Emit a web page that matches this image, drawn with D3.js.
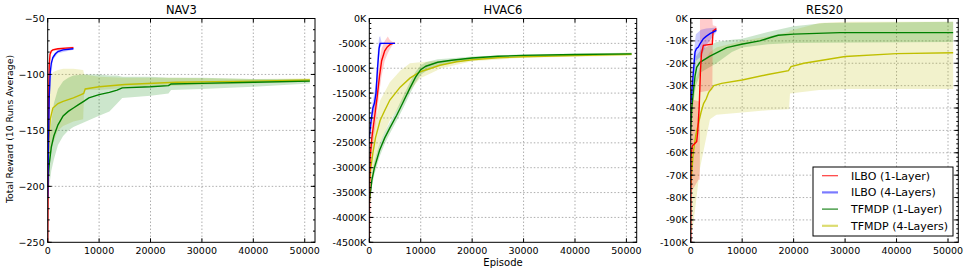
<!DOCTYPE html>
<html><head><meta charset="utf-8">
<script src="https://cdn.jsdelivr.net/npm/d3@7"></script>
<style>
body{margin:0;background:#fff;}
text{font-family:"DejaVu Sans",sans-serif;fill:#000;}
</style></head>
<body><svg id="c" width="969" height="273"></svg>
<script>
// ---------------- DATA ----------------
const panelTitles = ["NAV3", "HVAC6", "RES20"];
const seriesNames = ["ILBO (1-Layer)", "ILBO (4-Layers)", "TFMDP (1-Layer)", "TFMDP (4-Layers)"];
const xTicks = [0, 10000, 20000, 30000, 40000, 50000];
const nav3Ticks = [-250, -200, -150, -100, -50];
const hvacTicks = [-4500, -4000, -3500, -3000, -2500, -2000, -1500, -1000, -500, 0];
const resTicks = [-100, -90, -80, -70, -60, -50, -40, -30, -20, -10, 0];

// NAV3  [episode, mean]  and band [episode, low, high]
const nav3_ilbo1 = [[0,-250],[60,-215],[120,-170],[200,-120],[300,-92],[450,-82],[700,-79],[1000,-78],[2000,-77],[3500,-76.5],[5000,-76]];
const nav3_ilbo1_band = [[0,-250,-250],[200,-123,-117],[450,-84,-80],[1000,-79,-77],[5000,-77,-75]];
const nav3_ilbo4 = [[0,-210],[150,-160],[300,-120],[500,-98],[700,-90],[1000,-85],[1500,-81.5],[2000,-79.5],[3000,-78],[5000,-77]];
const nav3_ilbo4_band = [[0,-212,-208],[300,-123,-117],[1000,-87,-83],[2000,-81,-78],[5000,-78,-76]];
const nav3_tf1 = [[0,-200],[300,-180],[700,-165],[1200,-155],[2000,-145],[3000,-137],[4000,-133],[5000,-130],[6000,-127],[7000,-124],[8000,-121],[10000,-118],[12000,-116],[13500,-114],[14500,-112],[20000,-111],[23500,-110],[24000,-108.5],[30000,-108],[40000,-107],[51000,-106]];
const nav3_tf1_band = [[0,-205,-195],[300,-200,-162],[700,-186,-142],[1200,-176,-126],[2000,-163,-113],[3000,-155,-106],[4000,-150,-103],[5000,-147,-101],[7000,-143,-100],[10000,-137,-100],[12000,-133,-101],[13500,-126,-101],[14500,-121,-102],[20000,-119,-102],[23500,-117,-103],[24000,-114,-103],[30000,-113,-103],[40000,-111,-104],[51000,-108,-104]];
const nav3_tf4 = [[0,-200],[200,-160],[500,-140],[1000,-130],[2000,-126],[3000,-124],[5000,-121],[6500,-118],[7000,-117],[7300,-113],[10000,-111],[15000,-109],[25000,-107],[40000,-106],[51000,-105]];
const nav3_tf4_band = [[0,-205,-195],[200,-190,-130],[500,-175,-106],[1000,-162,-98],[2000,-150,-96],[3000,-146,-95],[5000,-142,-95],[6900,-140,-96],[7100,-114,-100],[10000,-114,-102],[15000,-112,-103],[25000,-110,-103],[40000,-108,-104],[51000,-106.5,-103.5]];

// HVAC6 (thousands)
const hvac_ilbo1 = [[0,-4500],[50,-3500],[150,-2800],[500,-2400],[1000,-2000],[1500,-1600],[2000,-1150],[2400,-850],[3000,-650],[3500,-570],[4000,-525],[4600,-500],[5000,-500]];
const hvac_ilbo1_band = [[0,-4500,-4500],[50,-3800,-3200],[150,-3100,-2500],[500,-2700,-2100],[1000,-2300,-1700],[1500,-1900,-1250],[2000,-1450,-850],[2400,-1150,-600],[3000,-850,-450],[3600,-700,-360],[4000,-620,-430],[4600,-520,-480],[5000,-510,-490]];
const hvac_ilbo4 = [[0,-2400],[300,-2100],[700,-1800],[1000,-1700],[1300,-1500],[1600,-1000],[1900,-600],[2100,-500],[5000,-500]];
const hvac_ilbo4_band = [[0,-2500,-2300],[300,-2250,-1950],[700,-1950,-1650],[1000,-1850,-1500],[1300,-1700,-1250],[1600,-1250,-700],[1900,-800,-380],[2100,-600,-350],[2400,-520,-480],[5000,-505,-495]];
const hvac_tf1 = [[0,-3700],[500,-3250],[1000,-3000],[2000,-2650],[3000,-2400],[4000,-2200],[5300,-1950],[6500,-1700],[7900,-1400],[9000,-1180],[10000,-1030],[11000,-960],[13300,-880],[16000,-840],[20000,-795],[25000,-760],[30000,-741],[40000,-725],[51000,-712]];
const hvac_tf1_band = [[0,-3800,-3600],[500,-3380,-3120],[1000,-3130,-2870],[2000,-2780,-2520],[3000,-2520,-2280],[4000,-2310,-2090],[5300,-2060,-1840],[6500,-1820,-1580],[7900,-1520,-1280],[9000,-1290,-1070],[10000,-1130,-940],[11000,-1060,-880],[13300,-960,-820],[16000,-890,-800],[20000,-830,-765],[30000,-760,-720],[51000,-730,-695]];
const hvac_tf4 = [[0,-3300],[300,-3000],[700,-2700],[1200,-2400],[2100,-2050],[3000,-1850],[4000,-1640],[6000,-1380],[7900,-1200],[9900,-1070],[12000,-1000],[13750,-940],[17000,-870],[20000,-830],[25000,-790],[30000,-770],[40000,-745],[51000,-722]];
const hvac_tf4_band = [[0,-3600,-3000],[700,-3100,-2300],[2100,-2500,-1650],[4000,-2050,-1280],[6000,-1750,-1050],[7900,-1450,-900],[9900,-1200,-880],[12000,-1100,-860],[14000,-1000,-850],[20000,-860,-790],[30000,-790,-740],[40000,-770,-720],[51000,-750,-680]];

// RES20 (thousands)
const res_ilbo1 = [[0,-100],[50,-62],[300,-57],[1160,-55],[1350,-51],[1650,-39.5],[1900,-23],[2100,-15.6],[2460,-12],[4200,-11.5],[4350,-5.5],[5000,-4.5]];
const res_ilbo1_band = [[0,-78,-36],[1500,-72,-37],[1780,-72,-37],[1800,-33,0],[4200,-32,0],[4300,-7,-3],[5000,-5.5,-3.5]];
const res_ilbo4 = [[0,-38],[200,-33],[500,-24.5],[840,-15],[1100,-13.5],[1480,-12.8],[1810,-11.3],[2460,-9],[3000,-8],[3750,-6.8],[5000,-5.3]];
const res_ilbo4_band = [[0,-40,-33],[500,-30,-17],[1000,-19,-7],[2000,-17,-5],[3000,-12,-4.5],[5000,-6,-4]];
const res_tf1 = [[0,-50],[200,-40],[500,-33],[840,-25.7],[1160,-21.8],[1800,-19.6],[3750,-16.8],[7000,-13],[9860,-11.5],[13400,-10],[15500,-8.5],[17000,-7.5],[20000,-7],[29000,-6.3],[51000,-6.3]];
const res_tf1_band = [[0,-58,-42],[500,-38,-28],[1000,-30,-17],[2000,-24,-14],[5000,-20,-10.5],[8000,-15,-9.5],[10000,-13,-9],[15000,-11.5,-6],[20000,-11,-3.5],[26000,-10.8,-2],[51000,-10.5,-1.5]];
const res_tf4 = [[0,-75],[500,-60],[1000,-52],[1500,-47],[2000,-42],[2500,-38],[3000,-36],[3500,-33],[4500,-30],[6000,-29],[10000,-27.5],[15000,-25],[19000,-23.3],[19500,-21.5],[22000,-20],[30000,-17],[40000,-15.7],[51000,-15.3]];
const res_tf4_band = [[0,-98,-40],[500,-92,-30],[1800,-67,-22],[3750,-45,-15],[5000,-43,-13],[10000,-42,-10],[15000,-41,-8],[19100,-40.5,-6],[19300,-33.5,-5.5],[25000,-32,-2],[30000,-31.5,-1.5],[51000,-31.5,-1.5]];

// ---------------- DRAW ----------------
const colors = ["#ff0000", "#0000ff", "#008000", "#bfbf00"];
const svg = d3.select("#c");
const plotTop = 18.5, plotBottom = 242.3;
const panels = [
  {left:47.7, right:315, yDom:[-250,-50], ticks:nav3Ticks, minor:10, fmt:d=>d===0?"0":"\u2212"+Math.abs(d),
   data:[[nav3_ilbo1,nav3_ilbo1_band],[nav3_ilbo4,nav3_ilbo4_band],[nav3_tf1,nav3_tf1_band],[nav3_tf4,nav3_tf4_band]]},
  {left:369.3, right:636.7, yDom:[-4500,0], ticks:hvacTicks, minor:100, fmt:d=>d+"K",
   data:[[hvac_ilbo1,hvac_ilbo1_band],[hvac_ilbo4,hvac_ilbo4_band],[hvac_tf1,hvac_tf1_band],[hvac_tf4,hvac_tf4_band]]},
  {left:690.7, right:958.3, yDom:[-100,0], ticks:resTicks, minor:2, fmt:d=>d+"K",
   data:[[res_ilbo1,res_ilbo1_band],[res_ilbo4,res_ilbo4_band],[res_tf1,res_tf1_band],[res_tf4,res_tf4_band]]}
];

panels.forEach((p, pi) => {
  const x = d3.scaleLinear().domain([0, 52000]).range([p.left, p.right]);
  const y = d3.scaleLinear().domain(p.yDom).range([plotBottom, plotTop]);
  const g = svg.append("g");
  const clipId = "clip" + pi;
  svg.append("clipPath").attr("id", clipId).append("rect")
    .attr("x", p.left).attr("y", plotTop).attr("width", p.right - p.left).attr("height", plotBottom - plotTop);

  // grid
  const grid = g.append("g").attr("stroke", "#999").attr("stroke-width", 0.8).attr("stroke-dasharray", "1.5,2");
  xTicks.forEach(t => { if (t > 0) grid.append("line").attr("x1", x(t)).attr("x2", x(t)).attr("y1", plotTop).attr("y2", plotBottom); });
  p.ticks.forEach(t => { if (t > p.yDom[0] && t < p.yDom[1]) grid.append("line").attr("x1", p.left).attr("x2", p.right).attr("y1", y(t)).attr("y2", y(t)); });

  const plot = g.append("g").attr("clip-path", `url(#${clipId})`);
  const area = d3.area().x(d => x(d[0])).y0(d => y(d[1])).y1(d => y(d[2]));
  const line = d3.line().x(d => x(d[0])).y(d => y(d[1]));
  [3, 2, 0, 1].forEach(i => {
    plot.append("path").attr("d", area(p.data[i][1])).attr("fill", colors[i]).attr("fill-opacity", 0.2).attr("stroke", "none");
  });
  [3, 2, 0, 1].forEach(i => {
    plot.append("path").attr("d", line(p.data[i][0])).attr("fill", "none").attr("stroke", colors[i]).attr("stroke-width", 1.4);
  });

  // frame
  g.append("rect").attr("x", p.left).attr("y", plotTop).attr("width", p.right - p.left).attr("height", plotBottom - plotTop)
    .attr("fill", "none").attr("stroke", "#000").attr("stroke-width", 1);

  // ticks inward (all sides)
  const tk = g.append("g").attr("stroke", "#000").attr("stroke-width", 1);
  xTicks.forEach(t => {
    tk.append("line").attr("x1", x(t)).attr("x2", x(t)).attr("y1", plotBottom).attr("y2", plotBottom - 4);
    tk.append("line").attr("x1", x(t)).attr("x2", x(t)).attr("y1", plotTop).attr("y2", plotTop + 4);
  });
  p.ticks.forEach(t => {
    tk.append("line").attr("x1", p.left).attr("x2", p.left + 4).attr("y1", y(t)).attr("y2", y(t));
    tk.append("line").attr("x1", p.right).attr("x2", p.right - 4).attr("y1", y(t)).attr("y2", y(t));
  });
  d3.range(p.yDom[0], p.yDom[1] + 1e-9, p.minor).forEach(t => {
    tk.append("line").attr("x1", p.left).attr("x2", p.left + 2).attr("y1", y(t)).attr("y2", y(t));
    tk.append("line").attr("x1", p.right).attr("x2", p.right - 2).attr("y1", y(t)).attr("y2", y(t));
  });

  // tick labels
  xTicks.forEach(t => {
    g.append("text").attr("x", x(t)).attr("y", plotBottom + 11.5).attr("text-anchor", "middle")
      .attr("font-size", 9.5).text(t);
  });
  p.ticks.forEach(t => {
    g.append("text").attr("x", p.left - 3).attr("y", y(t) + 3.4).attr("text-anchor", "end")
      .attr("font-size", 9.5).text(p.fmt(t));
  });

  // title
  g.append("text").attr("x", (p.left + p.right) / 2).attr("y", 14).attr("text-anchor", "middle")
    .attr("font-size", 11.5).text(panelTitles[pi]);
});

// axis labels
svg.append("text").attr("transform", "translate(13,129) rotate(-90)").attr("text-anchor", "middle")
  .attr("font-size", 9.3).text("Total Reward (10 Runs Average)");
svg.append("text").attr("x", 503).attr("y", 266).attr("text-anchor", "middle")
  .attr("font-size", 10).text("Episode");

// legend
const lg = svg.append("g");
lg.append("rect").attr("x", 813).attr("y", 167).attr("width", 140).attr("height", 69)
  .attr("fill", "#fff").attr("stroke", "#000").attr("stroke-width", 1);
const legStyles = [
  {c:"#ff3b3b", w:1.2}, {c:"#7a7aff", w:2.2}, {c:"#1f861f", w:1.2}, {c:"#dcdc70", w:2.2}
];
seriesNames.forEach((n, i) => {
  const yy = 175.7 + i * 16.7;
  lg.append("line").attr("x1", 822).attr("x2", 838).attr("y1", yy).attr("y2", yy)
    .attr("stroke", legStyles[i].c).attr("stroke-width", legStyles[i].w);
  lg.append("text").attr("x", 851).attr("y", yy + 4).attr("font-size", 11).text(n);
});
</script>
</body></html>
